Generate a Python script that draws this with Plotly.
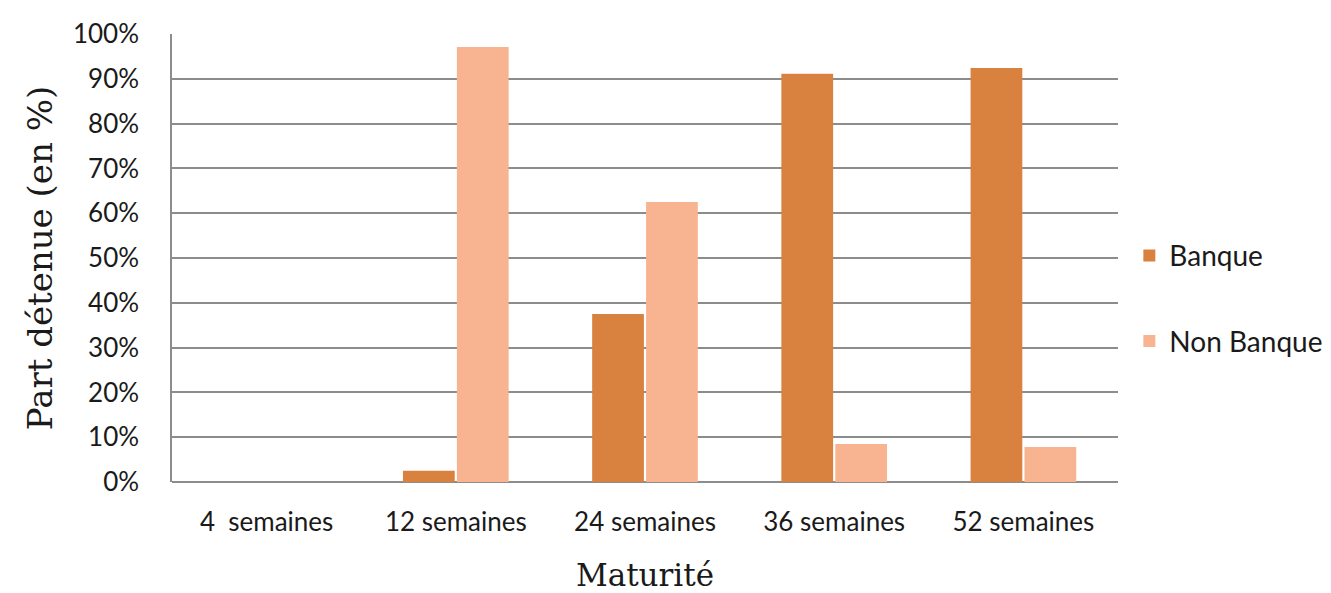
import plotly.graph_objects as go

categories = ["4\u00a0 semaines", "12 semaines", "24 semaines", "36 semaines", "52 semaines"]
banque = [0.0, 2.5, 37.5, 91.1, 92.4]
non_banque = [0.0, 97.1, 62.5, 8.5, 7.8]
y_ticks = [0, 10, 20, 30, 40, 50, 60, 70, 80, 90, 100]
y_tick_labels = [f"{v}%" for v in y_ticks]

fig = go.Figure()
fig.add_trace(go.Bar(
    x=categories, y=banque, name="Banque",
    marker=dict(color="#D9823F", line=dict(width=0)),
    legendgroup="a",
))
fig.add_trace(go.Bar(
    x=categories, y=non_banque, name="Non Banque",
    marker=dict(color="#F8B490", line=dict(width=0)),
    legendgroup="b",
))

fig.update_layout(
    width=1331, height=593,
    margin=dict(l=172, r=213, t=34, b=111, autoexpand=False),
    paper_bgcolor="white", plot_bgcolor="white",
    barmode="group", bargap=0.43, bargroupgap=0.04,
    font=dict(family="Lato, Open Sans, sans-serif", size=26, color="#1a1a1a"),
    legend=dict(
        x=1.012, y=0.41, xanchor="left", yanchor="middle",
        font=dict(size=28, color="#1a1a1a"),
        tracegroupgap=46, traceorder="grouped",
        itemwidth=30,
    ),
    xaxis=dict(
        showline=False, ticks="", showgrid=False,
        tickfont=dict(size=26), ticklabelstandoff=22,
        automargin=False,
        title=dict(text="Maturité", font=dict(family="DejaVu Serif, serif", size=31, color="#1a1a1a"), standoff=31),
    ),
    yaxis=dict(
        range=[0, 100], tickvals=y_ticks, ticktext=y_tick_labels,
        showgrid=True, gridcolor="#8C8C8C", gridwidth=1.5,
        showline=True, linecolor="#8C8C8C", linewidth=1.5,
        zeroline=True, zerolinecolor="#8C8C8C", zerolinewidth=1.5,
        ticks="", tickfont=dict(size=26), ticklen=0, ticklabelstandoff=26,
        automargin=False,
        title=dict(text="Part détenue (en %)", font=dict(family="DejaVu Serif, serif", size=34, color="#1a1a1a"), standoff=10),
    ),
)

fig.write_html("out.html", config={"displayModeBar": False},
               post_script="document.body.style.margin='0';")
